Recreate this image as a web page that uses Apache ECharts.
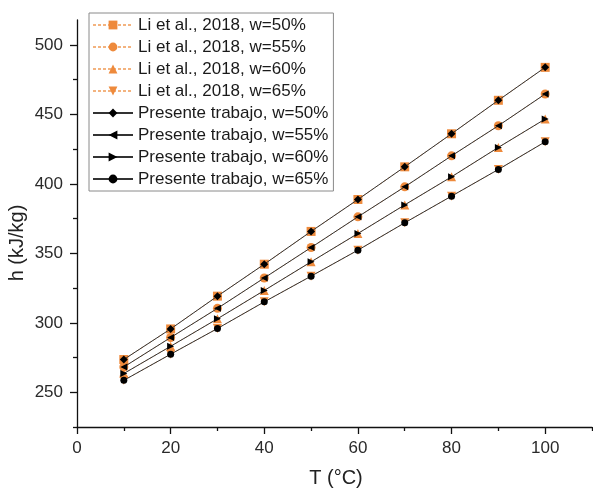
<!DOCTYPE html>
<html>
<head>
<meta charset="utf-8">
<script src="https://cdn.jsdelivr.net/npm/echarts@6/dist/echarts.min.js"></script>
<style>
html,body{margin:0;padding:0;background:#fff;}
#chart{width:593px;height:488px;}
</style>
</head>
<body>
<div id="chart"></div>
<script>
const temps = [10, 20, 30, 40, 50, 60, 70, 80, 90, 100];
const li50 = [273.6, 295.6, 319.2, 342.2, 365.8, 388.8, 412.3, 436.1, 460.2, 483.9];
const li55 = [268.2, 289.4, 310.4, 332.3, 354.2, 376.3, 397.9, 420.2, 441.9, 464.7];
const li60 = [263.5, 283.1, 302.9, 323.3, 343.9, 364.3, 384.9, 405.1, 426.3, 446.7];
const li65 = [258.6, 277.4, 295.9, 315.1, 333.6, 352.3, 372.0, 391.2, 410.4, 430.3];
const pt50 = [273.6, 295.6, 319.2, 342.2, 365.8, 388.8, 412.3, 436.1, 460.2, 483.9];
const pt55 = [268.2, 289.4, 310.4, 332.3, 354.2, 376.3, 397.9, 420.2, 441.9, 464.7];
const pt60 = [263.5, 283.1, 302.9, 323.3, 343.9, 364.3, 384.9, 405.1, 426.3, 446.7];
const pt65 = [258.6, 277.4, 295.9, 315.1, 333.6, 352.3, 372.0, 391.2, 410.4, 430.3];
const xMajor = [0, 20, 40, 60, 80, 100];
const xMinor = [10, 30, 50, 70, 90, 110];
const yMajor = [250, 300, 350, 400, 450, 500];
const yMinor = [225, 275, 325, 375, 425, 475];
const names = ['Li et al., 2018, w=50%', 'Li et al., 2018, w=55%', 'Li et al., 2018, w=60%', 'Li et al., 2018, w=65%',
  'Presente trabajo, w=50%', 'Presente trabajo, w=55%', 'Presente trabajo, w=60%', 'Presente trabajo, w=65%'];

const orange = '#EE8A3C';
const pair = (ys) => temps.map((t, i) => [t, ys[i]]);

function liSeries(name, ys, symbol, rot) {
  return {
    name, type: 'line', data: pair(ys), symbol, symbolSize: 9, symbolRotate: rot,
    itemStyle: { color: orange },
    lineStyle: { color: '#F3B37F', width: 1, type: [3, 2] },
    z: 2
  };
}
function ptSeries(name, ys, symbol, size, rot) {
  return {
    name, type: 'line', data: pair(ys), symbol, symbolSize: size, symbolRotate: rot,
    itemStyle: { color: '#000' },
    lineStyle: { color: '#333', width: 1 },
    z: 3
  };
}

const font = 'Liberation Sans, Arial, sans-serif';
const chart = echarts.init(document.getElementById('chart'));
chart.setOption({
  animation: false,
  backgroundColor: '#fff',
  grid: { left: 77, right: 1, top: 20, bottom: 61 },
  legend: {
    orient: 'vertical', left: 89, top: 13,
    padding: [3, 5, 3, 3],
    borderColor: '#8a8a8a', borderWidth: 1,
    itemWidth: 40, itemHeight: 11, itemGap: 4,
    textStyle: { fontFamily: font, fontSize: 17, color: '#1a1a1a', lineHeight: 18 },
    data: names
  },
  xAxis: [{
    type: 'value', min: 0, max: 110, position: 'bottom',
    axisLine: { show: true, lineStyle: { color: '#111', width: 1.3 } },
    axisTick: { show: true, inside: false, customValues: xMajor, length: 7, lineStyle: { color: '#111', width: 1.3 } },
    axisLabel: { customValues: xMajor, fontFamily: font, fontSize: 17, color: '#2a2a2a', margin: 13 },
    splitLine: { show: false }
  }, {
    type: 'value', min: 0, max: 110, position: 'bottom',
    axisLine: { show: false },
    axisTick: { show: true, inside: false, customValues: xMinor, length: 4, lineStyle: { color: '#111', width: 1.3 } },
    axisLabel: { show: false },
    splitLine: { show: false }
  }],
  yAxis: [{
    type: 'value', min: 225, max: 518, position: 'left',
    axisLine: { show: true, lineStyle: { color: '#111', width: 1.3 } },
    axisTick: { show: true, inside: false, customValues: yMajor, length: 7, lineStyle: { color: '#111', width: 1.3 } },
    axisLabel: { customValues: yMajor, fontFamily: font, fontSize: 17, color: '#2a2a2a', margin: 14 },
    splitLine: { show: false }
  }, {
    type: 'value', min: 225, max: 518, position: 'left',
    axisLine: { show: false },
    axisTick: { show: true, inside: false, customValues: yMinor, length: 4, lineStyle: { color: '#111', width: 1.3 } },
    axisLabel: { show: false },
    splitLine: { show: false }
  }],
  graphic: [{
    type: 'text', x: 336, y: 478,
    style: { text: 'T (°C)', font: '20px ' + font, fill: '#222', align: 'center', verticalAlign: 'middle' }
  }, {
    type: 'text', x: 17, y: 243, rotation: Math.PI / 2,
    style: { text: 'h (kJ/kg)', font: '20px ' + font, fill: '#222', align: 'center', verticalAlign: 'middle' }
  }],
  series: [
    liSeries(names[0], li50, 'rect', 0),
    liSeries(names[1], li55, 'circle', 0),
    liSeries(names[2], li60, 'triangle', 0),
    liSeries(names[3], li65, 'triangle', 180),
    ptSeries(names[4], pt50, 'diamond', 8, 0),
    ptSeries(names[5], pt55, 'triangle', 7, 90),
    ptSeries(names[6], pt60, 'triangle', 7, -90),
    ptSeries(names[7], pt65, 'circle', 7, 0)
  ]
});
</script>
</body>
</html>
